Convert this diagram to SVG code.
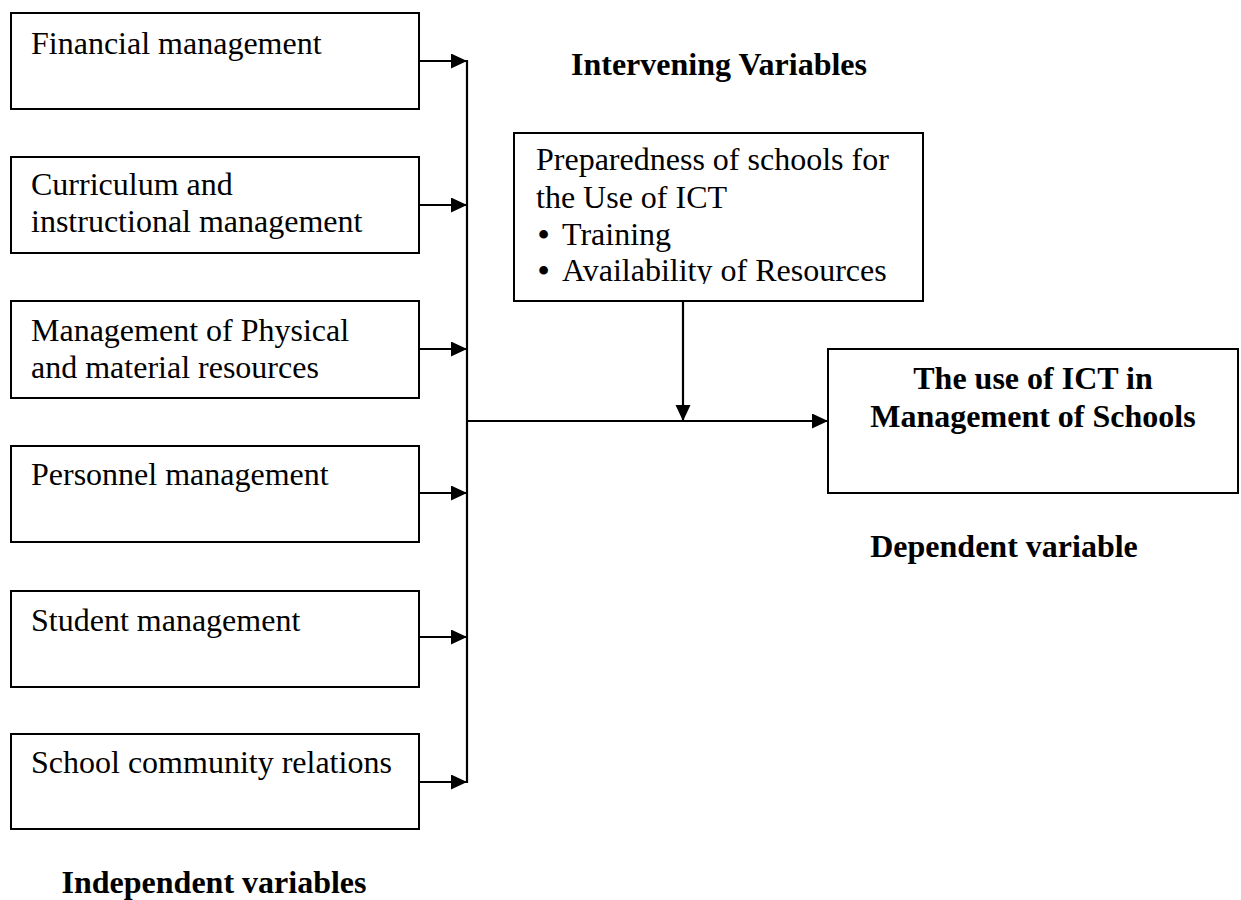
<svg xmlns="http://www.w3.org/2000/svg" width="1241" height="900" viewBox="0 0 1241 900">
<style>
.box{fill:#fff;stroke:#000;stroke-width:2}
.t{font-family:"Liberation Serif","Times New Roman",serif;font-size:32px;fill:#000}
.b{font-weight:bold}
.c{text-anchor:middle}
.con{stroke:#000;stroke-width:2.2;fill:none}
</style>
<defs>
<marker id="ah" markerUnits="userSpaceOnUse" markerWidth="18" markerHeight="18" refX="16" refY="7.5" orient="auto">
<path d="M0,0 L16,7.5 L0,15 z" fill="#000"/>
</marker>
<clipPath id="clipI"><rect x="514" y="133" width="409" height="151"/></clipPath>
</defs>
<rect width="1241" height="900" fill="#fff"/>

<g id="n1"><rect class="box" x="11" y="13" width="408" height="96"/><text class="t" x="31" y="54">Financial management</text></g>
<g id="n2"><rect class="box" x="11" y="157" width="408" height="96"/><text class="t" x="31" y="195">Curriculum and</text><text class="t" x="31" y="232">instructional management</text></g>
<g id="n3"><rect class="box" x="11" y="301" width="408" height="97"/><text class="t" x="31" y="341">Management of Physical</text><text class="t" x="31" y="378">and material resources</text></g>
<g id="n4"><rect class="box" x="11" y="446" width="408" height="96"/><text class="t" x="31" y="485">Personnel management</text></g>
<g id="n5"><rect class="box" x="11" y="591" width="408" height="96"/><text class="t" x="31" y="631">Student management</text></g>
<g id="n6"><rect class="box" x="11" y="734" width="408" height="95"/><text class="t" x="31" y="773">School community relations</text></g>

<g id="intervening"><rect class="box" x="514" y="133" width="409" height="168"/>
<g clip-path="url(#clipI)">
<text class="t" x="536" y="170">Preparedness of schools for</text>
<text class="t" x="536" y="208">the Use of ICT</text>
<text class="t" x="538" y="245"><tspan font-weight="bold">•</tspan><tspan x="562">Training</tspan></text>
<text class="t" x="538" y="281"><tspan font-weight="bold">•</tspan><tspan x="562">Availability of Resources</tspan></text>
</g></g>

<g id="dependent"><rect class="box" x="828" y="349" width="410" height="144"/>
<text class="t b c" x="1033" y="389">The use of ICT in</text>
<text class="t b c" x="1033" y="427">Management of Schools</text></g>

<g id="labels">
<text class="t b c" x="719" y="75">Intervening Variables</text>
<text class="t b c" x="1004" y="557">Dependent variable</text>
<text class="t b c" x="214" y="893">Independent variables</text>
</g>

<g id="connectors">
<line class="con" x1="419" y1="61" x2="467" y2="61" marker-end="url(#ah)"/>
<line class="con" x1="419" y1="205" x2="467" y2="205" marker-end="url(#ah)"/>
<line class="con" x1="419" y1="349" x2="467" y2="349" marker-end="url(#ah)"/>
<line class="con" x1="419" y1="493" x2="467" y2="493" marker-end="url(#ah)"/>
<line class="con" x1="419" y1="637" x2="467" y2="637" marker-end="url(#ah)"/>
<line class="con" x1="419" y1="782" x2="467" y2="782" marker-end="url(#ah)"/>
<line class="con" x1="467" y1="60" x2="467" y2="783"/>
<line class="con" x1="467" y1="421" x2="828" y2="421" marker-end="url(#ah)"/>
<line class="con" x1="683" y1="301" x2="683" y2="421" marker-end="url(#ah)"/>
</g>
</svg>
